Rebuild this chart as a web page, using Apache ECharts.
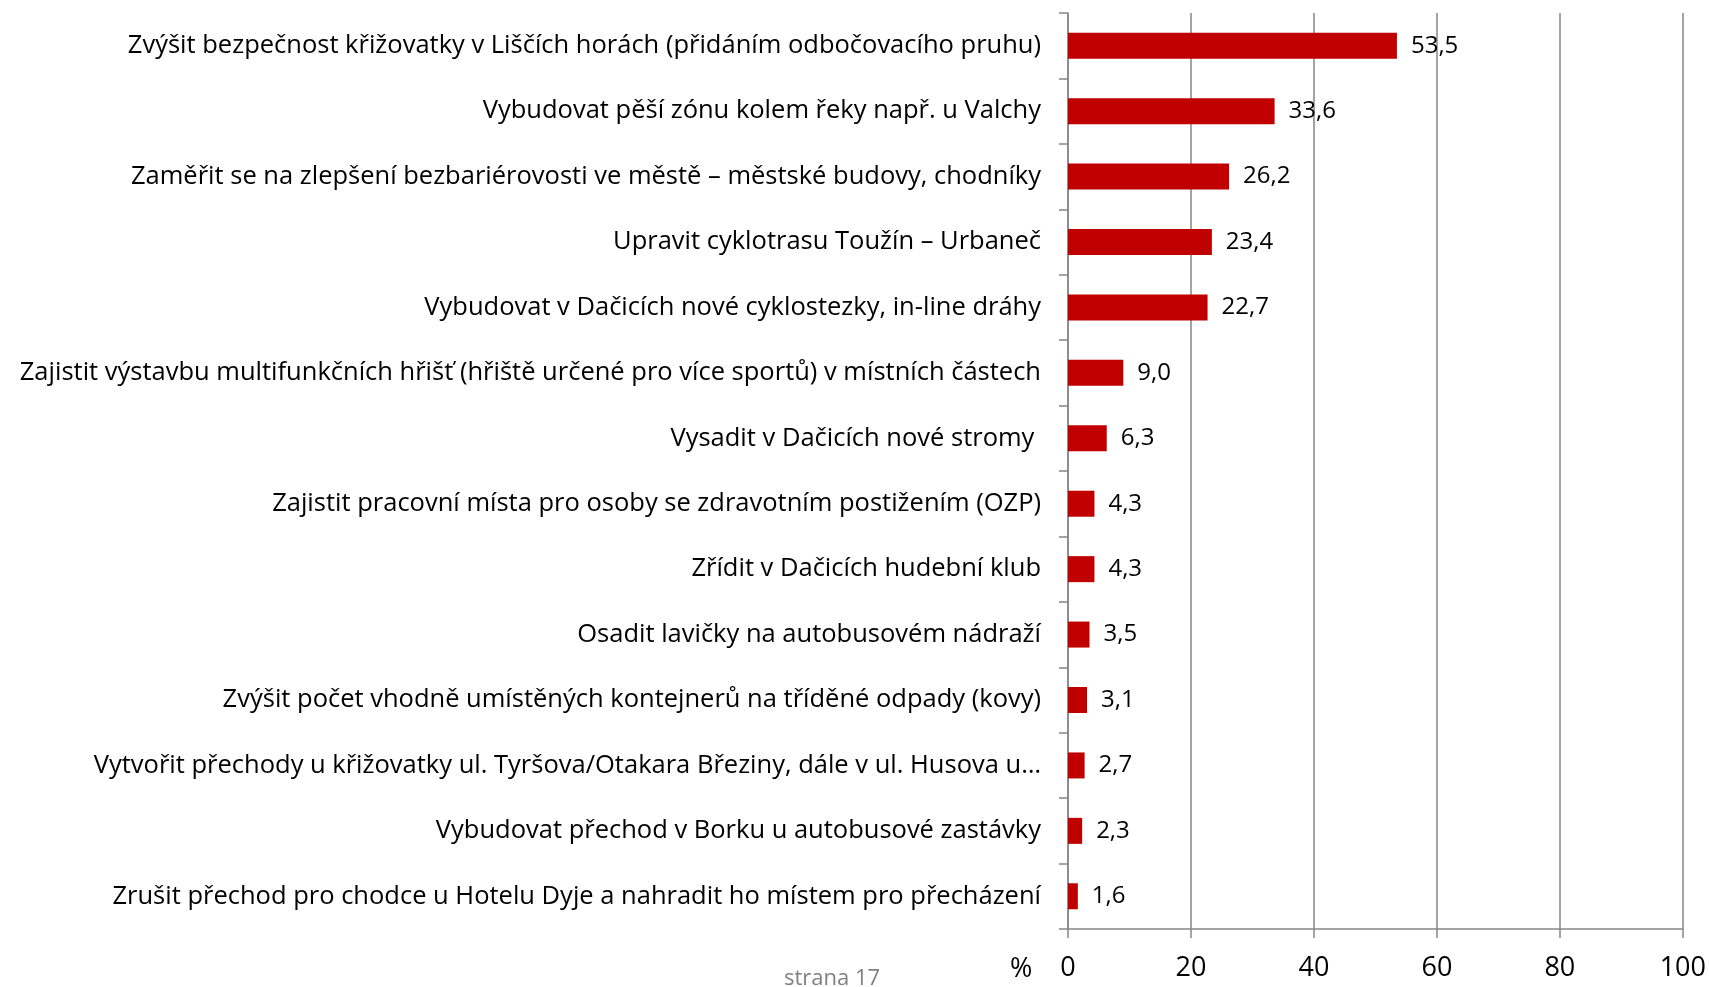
<!DOCTYPE html>
<html>
<head>
<meta charset="utf-8">
<script src="https://cdn.jsdelivr.net/npm/echarts@6/dist/echarts.min.js"></script>
<style>
  html, body { margin: 0; padding: 0; background: #fff; }
  #chart { width: 1709px; height: 987px; }
</style>
</head>
<body>
<div id="chart"></div>
<script>
// kategorie (shora dolu)
const categories = [
  'Zvýšit bezpečnost křižovatky v Liščích horách (přidáním odbočovacího pruhu)',
  'Vybudovat pěší zónu kolem řeky např. u Valchy',
  'Zaměřit se na zlepšení bezbariérovosti ve městě – městské budovy, chodníky',
  'Upravit cyklotrasu Toužín – Urbaneč',
  'Vybudovat v Dačicích nové cyklostezky, in-line dráhy',
  'Zajistit výstavbu multifunkčních hřišť (hřiště určené pro více sportů) v místních částech',
  'Vysadit v Dačicích nové stromy ',
  'Zajistit pracovní místa pro osoby se zdravotním postižením (OZP)',
  'Zřídit v Dačicích hudební klub',
  'Osadit lavičky na autobusovém nádraží',
  'Zvýšit počet vhodně umístěných kontejnerů na tříděné odpady (kovy)',
  'Vytvořit přechody u křižovatky ul. Tyršova/Otakara Březiny, dále v ul. Husova u…',
  'Vybudovat přechod v Borku u autobusové zastávky',
  'Zrušit přechod pro chodce u Hotelu Dyje a nahradit ho místem pro přecházení'
]
// procenta
const values = [53.5, 33.6, 26.2, 23.4, 22.7, 9.0, 6.3, 4.3, 4.3, 3.5, 3.1, 2.7, 2.3, 1.6]
const xTicks = [0, 20, 40, 60, 80, 100]

const font = '"Open Sans", "Noto Sans", sans-serif'
const chart = echarts.init(document.getElementById('chart'))

chart.setOption({
  animation: false,
  grid: {
    left: 1068,
    right: 25,
    top: 13,
    bottom: 58
  },
  xAxis: {
    type: 'value',
    min: xTicks[0],
    max: xTicks[xTicks.length - 1],
    interval: 20,
    axisLine: { show: true, lineStyle: { color: '#868686', width: 1.5 } },
    axisTick: { show: true, length: 9, lineStyle: { color: '#868686', width: 1.5 } },
    axisLabel: {
      color: '#000',
      fontFamily: font,
      fontSize: 27,
      margin: 26
    },
    splitLine: { show: true, lineStyle: { color: '#868686', width: 1.5 } }
  },
  yAxis: {
    type: 'category',
    inverse: true,
    data: categories,
    axisLine: { show: true, lineStyle: { color: '#868686', width: 1.5 } },
    axisTick: { show: true, length: 9, lineStyle: { color: '#868686', width: 1.5 } },
    axisLabel: {
      color: '#000',
      fontFamily: font,
      fontSize: 25.5,
      margin: 27
    }
  },
  series: [{
    type: 'bar',
    data: values,
    barWidth: 26,
    itemStyle: { color: '#C00000' },
    label: {
      show: true,
      position: 'right',
      distance: 14,
      color: '#000',
      fontFamily: font,
      fontSize: 24,
      formatter: p => p.value.toFixed(1).replace('.', ',')
    }
  }],
  graphic: [{
    type: 'text',
    left: 1010,
    top: 956,
    style: { text: '%', fill: '#000', font: '27px ' + font }
  }, {
    type: 'text',
    left: 784,
    top: 968,
    style: { text: 'strana 17', fill: '#808080', font: '22px ' + font }
  }]
})
</script>
</body>
</html>
